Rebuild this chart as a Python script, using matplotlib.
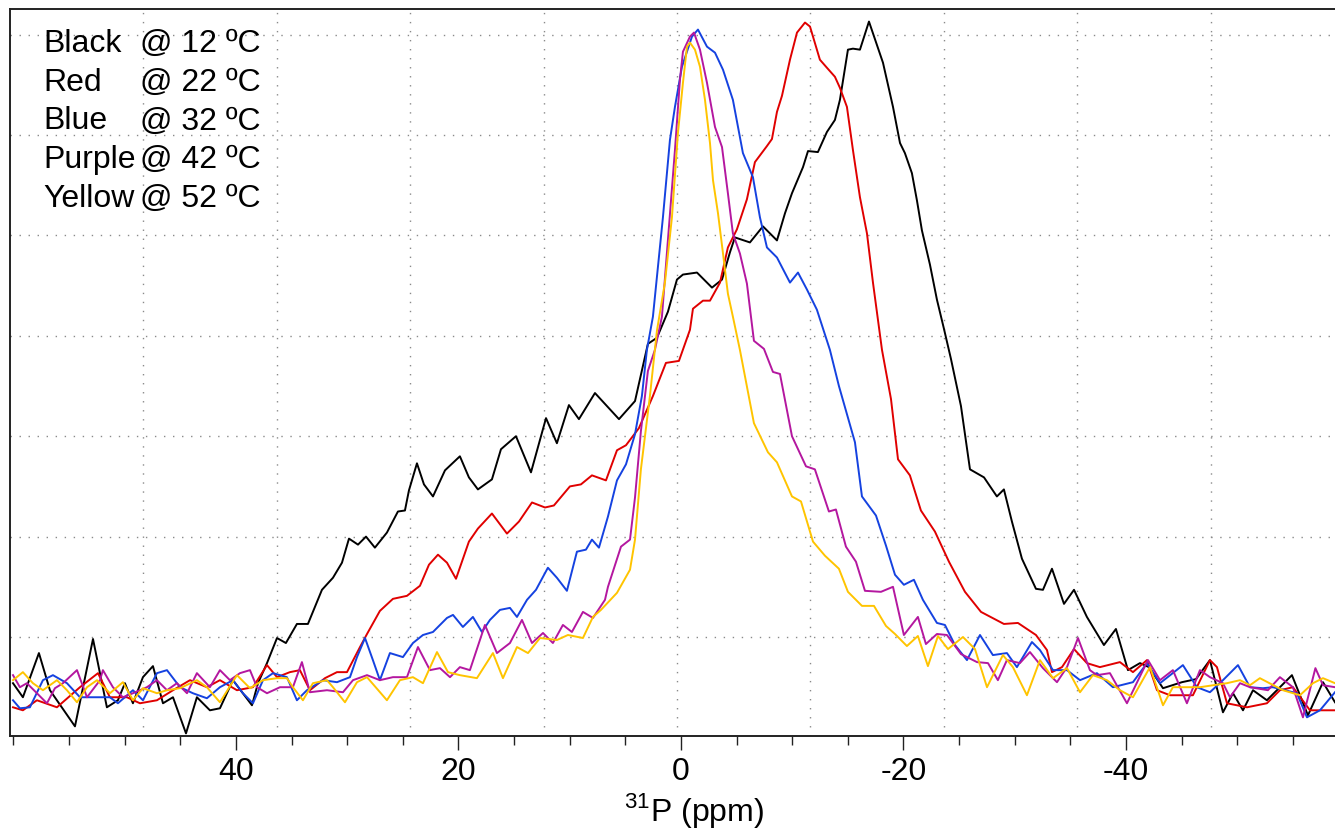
import numpy as np
import matplotlib
matplotlib.use("Agg")
import matplotlib.pyplot as plt

plt.rcParams['font.family'] = ['Liberation Sans', 'DejaVu Sans']
plt.rcParams['mathtext.fontset'] = 'custom'
plt.rcParams['mathtext.rm'] = 'Liberation Sans'
plt.rcParams['axes.unicode_minus'] = False

# 31P spectra: chemical shift (ppm) and intensity (a.u.)
black_ppm = [60.04, 59.15, 57.71, 56.72, 54.47, 52.85, 51.60, 50.61, 49.98, 49.26, 48.36, 47.46,
             46.56, 45.66, 44.49, 43.51, 42.34, 41.44, 40.27, 38.56, 38.02, 37.21, 36.31, 35.51,
             34.52, 33.53, 32.27, 31.28, 30.47, 29.84, 29.03, 28.31, 27.51, 26.43, 25.44, 24.81,
             24.45, 23.73, 23.10, 22.29, 21.21, 19.87, 19.06, 18.25, 16.99, 16.18, 14.83, 13.48,
             12.13, 11.15, 10.07, 9.17, 7.73, 5.57, 4.13, 2.97, 2.16, 1.17, 0.36, -0.18, -1.44,
             -2.79, -3.69, -4.40, -4.85, -6.20, -7.37, -8.63, -9.35, -9.98, -10.97, -11.42, -12.31,
             -13.12, -13.84, -14.29, -15.01, -15.46, -16.09, -16.90, -18.16, -19.06, -19.69, -20.13,
             -20.76, -21.21, -21.66, -22.38, -23.01, -23.64, -24.27, -25.17, -25.98, -27.24, -28.40,
             -29.03, -29.75, -30.65, -31.91, -32.54, -33.35, -34.43, -35.33, -36.49, -38.02, -39.10,
             -40.18, -41.26, -42.07, -43.33, -45.03, -46.29, -47.55, -48.72, -49.62, -50.52, -51.42,
             -52.67, -54.92, -56.36, -57.71, -58.79]
black_int = [0.54, 0.40, 0.84, 0.47, 0.11, 0.98, 0.30, 0.37, 0.54, 0.34, 0.60, 0.71,
             0.34, 0.40, 0.04, 0.40, 0.27, 0.29, 0.57, 0.32, 0.54, 0.74, 0.99, 0.94,
             1.13, 1.13, 1.47, 1.59, 1.74, 1.98, 1.92, 2.00, 1.89, 2.04, 2.25, 2.26,
             2.46, 2.73, 2.52, 2.40, 2.66, 2.80, 2.59, 2.47, 2.57, 2.87, 3.00, 2.64,
             3.18, 2.93, 3.31, 3.17, 3.43, 3.17, 3.35, 3.92, 3.98, 4.24, 4.56, 4.61, 4.63,
             4.48, 4.56, 4.83, 4.98, 4.93, 5.09, 4.95, 5.22, 5.42, 5.68, 5.84, 5.83,
             6.03, 6.15, 6.35, 6.85, 6.86, 6.85, 7.13, 6.72, 6.28, 5.92, 5.82,
             5.62, 5.35, 5.05, 4.71, 4.36, 4.07, 3.77, 3.30, 2.67, 2.59, 2.40,
             2.47, 2.15, 1.78, 1.48, 1.47, 1.68, 1.33, 1.47, 1.20, 0.92, 1.08,
             0.67, 0.74, 0.70, 0.49, 0.55, 0.58, 0.77, 0.25, 0.44, 0.27, 0.47,
             0.37, 0.62, 0.22, 0.55, 0.35]

red_ppm = [60.04, 59.15, 57.89, 56.09, 54.02, 52.40, 51.33, 49.80, 48.63, 47.10, 45.66, 44.13,
           42.61, 41.44, 39.91, 38.47, 37.21, 36.31, 35.15, 34.25, 33.35, 32.00, 30.92, 30.02,
           28.85, 28.22, 27.06, 25.89, 24.63, 23.46, 22.65, 21.84, 21.03, 20.22, 19.06, 18.25,
           16.99, 15.64, 14.56, 13.39, 12.22, 11.42, 9.98, 8.99, 8.00, 6.74, 5.75, 4.94, 3.78,
           2.52, 1.35, 0.18, -0.81, -1.08, -1.98, -2.61, -3.51, -4.22, -5.03, -5.93, -6.65,
           -7.73, -8.18, -8.63, -9.08, -9.80, -10.43, -11.15, -11.60, -12.49, -13.12, -13.84,
           -14.29, -14.92, -15.46, -16.09, -16.72, -17.26, -18.07, -18.88, -19.51, -20.58,
           -21.57, -22.83, -24.09, -25.53, -26.97, -29.03, -30.29, -31.91, -32.90, -33.35,
           -34.25, -35.33, -36.49, -37.66, -39.46, -40.63, -41.89, -42.79, -43.96, -46.02,
           -47.55, -48.18, -49.08, -50.88, -52.67, -53.84, -55.01, -56.54, -58.79]
red_int = [0.30, 0.27, 0.37, 0.30, 0.50, 0.64, 0.40, 0.40, 0.34, 0.37, 0.47, 0.57,
           0.50, 0.57, 0.47, 0.50, 0.72, 0.60, 0.65, 0.67, 0.47, 0.59, 0.65, 0.65,
           0.90, 1.03, 1.26, 1.38, 1.41, 1.51, 1.72, 1.82, 1.74, 1.58, 1.95, 2.08,
           2.23, 2.03, 2.15, 2.34, 2.29, 2.31, 2.50, 2.52, 2.61, 2.56, 2.86, 2.91, 3.08,
           3.40, 3.73, 3.75, 4.06, 4.27, 4.35, 4.35, 4.53, 4.88, 5.06, 5.36, 5.73,
           5.89, 5.96, 6.23, 6.39, 6.75, 7.02, 7.12, 7.08, 6.75, 6.67, 6.58,
           6.47, 6.28, 5.85, 5.38, 5.02, 4.53, 3.86, 3.37, 2.77, 2.61,
           2.26, 2.05, 1.75, 1.45, 1.25, 1.13, 1.14, 1.02, 0.87, 0.65,
           0.70, 0.88, 0.74, 0.70, 0.75, 0.65, 0.77, 0.47, 0.42, 0.42,
           0.77, 0.70, 0.34, 0.30, 0.34, 0.47, 0.50, 0.27, 0.27]

blue_ppm = [60.04, 59.42, 58.52, 57.35, 56.45, 55.19, 54.02, 52.85, 51.33, 50.61, 49.26, 48.36,
            47.10, 46.20, 45.03, 43.87, 42.61, 41.44, 40.27, 39.37, 38.47, 37.57, 36.67, 35.42,
            34.52, 33.62, 32.18, 30.92, 29.75, 29.12, 28.40, 27.69, 27.06, 26.16, 24.99, 24.09,
            23.19, 22.29, 21.03, 20.49, 19.60, 18.70, 17.89, 17.17, 16.27, 15.37, 14.74, 13.84,
            13.03, 11.96, 11.15, 10.25, 9.35, 8.54, 8.00, 7.37, 6.56, 5.75, 4.94, 4.13, 3.51,
            3.06, 2.52, 1.62, 0.99, 0.54, -0.09, -0.99, -1.53, -2.34, -3.06, -3.78, -4.67,
            -5.57, -6.47, -7.10, -7.73, -8.63, -9.80, -10.52, -11.33, -12.22, -13.39, -14.20,
            -15.64, -16.27, -17.53, -18.43, -19.24, -20.04, -20.94, -21.75, -23.01, -23.73,
            -24.63, -25.71, -26.88, -28.04, -29.30, -30.20, -31.55, -32.27, -33.44, -34.70,
            -35.87, -37.39, -38.83, -40.63, -41.89, -43.06, -45.12, -46.38, -47.55, -48.72,
            -50.07, -51.15, -52.31, -53.21, -55.37, -56.27, -57.44, -58.79]
blue_int = [0.37, 0.29, 0.30, 0.57, 0.62, 0.54, 0.40, 0.40, 0.40, 0.34, 0.47, 0.37,
            0.64, 0.67, 0.50, 0.44, 0.39, 0.50, 0.57, 0.44, 0.34, 0.57, 0.64, 0.60,
            0.37, 0.47, 0.57, 0.55, 0.60, 0.80, 0.99, 0.77, 0.57, 0.84, 0.80, 0.94,
            1.02, 1.05, 1.19, 1.22, 1.10, 1.20, 1.05, 1.17, 1.27, 1.29, 1.20, 1.37,
            1.47, 1.69, 1.59, 1.46, 1.85, 1.87, 1.97, 1.89, 2.20, 2.56, 2.72, 3.02, 3.40,
            3.86, 4.19, 5.18, 5.95, 6.28, 6.68, 6.98, 7.05, 6.88, 6.82, 6.65, 6.35,
            5.82, 5.58, 5.18, 4.88, 4.78, 4.53, 4.63, 4.46, 4.26, 3.86, 3.50,
            2.94, 2.40, 2.21, 1.91, 1.62, 1.52, 1.57, 1.37, 1.14, 1.12,
            0.92, 0.77, 1.02, 0.82, 0.84, 0.70, 0.95, 0.87, 0.67, 0.67,
            0.57, 0.64, 0.50, 0.55, 0.74, 0.54, 0.72, 0.50, 0.45, 0.57,
            0.72, 0.50, 0.49, 0.50, 0.44, 0.20, 0.27, 0.45]

purple_ppm = [60.04, 59.42, 58.79, 57.89, 56.99, 56.27, 55.55, 54.29, 53.39, 52.22, 51.96, 51.06,
              50.16, 49.26, 48.00, 47.10, 46.20, 45.30, 44.40, 43.51, 42.34, 41.44, 40.54, 39.64,
              38.74, 38.11, 37.21, 36.04, 34.88, 34.07, 33.35, 31.82, 30.38, 29.48, 28.22, 27.06,
              25.89, 24.63, 23.64, 22.56, 21.66, 20.76, 19.87, 18.97, 17.62, 16.54, 15.37, 14.29,
              13.39, 12.40, 11.51, 10.61, 9.80, 8.81, 7.91, 6.83, 6.56, 5.39, 4.58, 4.13, 3.60,
              2.97, 2.34, 1.71, 1.17, 0.54, 0.09, -0.18, -0.81, -1.17, -1.71, -2.34, -3.06,
              -3.69, -4.22, -4.67, -5.30, -5.93, -6.56, -7.46, -8.27, -8.90, -9.98, -11.24,
              -12.04, -13.30, -13.93, -14.83, -15.73, -16.54, -17.98, -19.06, -20.04, -21.30,
              -22.02, -23.01, -23.91, -25.17, -26.61, -27.60, -28.49, -29.30, -30.47, -31.37,
              -32.54, -33.80, -34.70, -35.69, -36.76, -37.39, -38.56, -40.09, -41.53, -41.98,
              -43.06, -44.22, -45.48, -46.65, -47.55, -48.72, -49.35, -50.25, -51.15, -52.76,
              -53.84, -55.01, -55.91, -57.03, -57.71, -58.79]
purple_int = [0.62, 0.50, 0.54, 0.44, 0.34, 0.49, 0.54, 0.67, 0.40, 0.57, 0.67, 0.50,
              0.40, 0.44, 0.50, 0.57, 0.47, 0.54, 0.44, 0.64, 0.50, 0.67, 0.57, 0.64,
              0.67, 0.50, 0.44, 0.50, 0.50, 0.75, 0.45, 0.47, 0.45, 0.57, 0.62, 0.57,
              0.60, 0.60, 0.90, 0.67, 0.69, 0.60, 0.70, 0.67, 1.12, 0.84, 0.94, 1.17,
              0.94, 1.04, 0.94, 1.12, 1.05, 1.25, 1.19, 1.37, 1.50, 1.90, 1.97, 2.39, 3.05,
              3.65, 3.86, 4.19, 4.96, 5.85, 6.55, 6.83, 6.98, 7.02, 6.85, 6.52, 6.08,
              5.88, 5.42, 5.02, 4.82, 4.52, 3.95, 3.87, 3.64, 3.62, 3.00, 2.70,
              2.67, 2.25, 2.27, 1.90, 1.75, 1.46, 1.45, 1.50, 1.02, 1.20,
              0.93, 1.03, 1.02, 0.83, 0.75, 0.74, 0.57, 0.77, 0.74, 0.85,
              0.69, 0.55, 0.70, 0.99, 0.67, 0.62, 0.64, 0.34, 0.67, 0.77,
              0.57, 0.67, 0.34, 0.67, 0.60, 0.54, 0.40, 0.54, 0.50, 0.47,
              0.60, 0.50, 0.20, 0.69, 0.52, 0.50]

yellow_ppm = [60.04, 59.15, 58.25, 57.35, 56.09, 55.19, 54.29, 53.39, 52.49, 51.33, 50.16, 49.26,
              48.36, 47.10, 46.20, 45.03, 43.51, 42.61, 41.44, 39.91, 38.74, 37.57, 36.31, 35.42,
              34.88, 33.98, 33.08, 31.82, 31.28, 30.20, 29.12, 28.22, 26.43, 25.26, 24.09, 23.19,
              21.93, 20.94, 19.87, 18.34, 16.90, 16.00, 14.74, 13.75, 12.67, 11.15, 10.16, 8.81,
              7.91, 7.19, 5.75, 4.58, 4.13, 3.60, 2.79, 2.16, 1.44, 0.81, 0.27, -0.18, -0.54,
              -0.81, -1.26, -1.71, -2.16, -2.61, -2.88, -3.33, -3.78, -4.22, -4.67, -5.30,
              -6.56, -7.82, -8.63, -9.98, -10.79, -11.87, -12.94, -14.20, -15.01, -16.27,
              -17.35, -18.43, -19.24, -20.31, -21.30, -22.20, -23.10, -24.00, -25.35, -26.43,
              -27.51, -28.94, -29.84, -31.10, -32.27, -33.44, -34.70, -35.87, -37.03, -38.29,
              -39.46, -40.63, -42.16, -43.33, -44.22, -46.65, -49.08, -50.25, -51.15, -52.04,
              -54.11, -55.64, -56.81, -57.71, -58.79]
yellow_int = [0.57, 0.65, 0.54, 0.47, 0.57, 0.47, 0.35, 0.50, 0.57, 0.44, 0.55, 0.37,
              0.49, 0.44, 0.47, 0.49, 0.57, 0.50, 0.35, 0.62, 0.49, 0.57, 0.59, 0.59,
              0.50, 0.37, 0.54, 0.57, 0.50, 0.35, 0.55, 0.60, 0.37, 0.57, 0.60, 0.54,
              0.85, 0.65, 0.62, 0.59, 0.84, 0.59, 0.90, 0.84, 0.99, 0.97, 1.02, 0.99,
              1.20, 1.27, 1.44, 1.67, 1.97, 2.67, 3.40, 4.05, 4.53, 5.18, 6.02, 6.52, 6.88,
              6.92, 6.85, 6.68, 6.35, 5.92, 5.55, 5.22, 4.82, 4.42, 4.19, 3.86,
              3.13, 2.84, 2.74, 2.40, 2.35, 1.95, 1.81, 1.68, 1.45, 1.31,
              1.31, 1.11, 1.03, 0.91, 1.01, 0.71, 1.01, 0.88, 1.00, 0.88,
              0.50, 0.82, 0.70, 0.42, 0.77, 0.59, 0.69, 0.45, 0.62, 0.57,
              0.47, 0.40, 0.70, 0.32, 0.50, 0.50, 0.54, 0.57, 0.52, 0.59,
              0.47, 0.42, 0.54, 0.59, 0.54]

names = ['Black', 'Red', 'Blue', 'Purple', 'Yellow']
temps = ['@ 12 ºC', '@ 22 ºC', '@ 32 ºC', '@ 42 ºC', '@ 52 ºC']
colors = ['#000000', '#e00000', '#1542e0', '#b4179f', '#ffc400']
series = [(black_ppm, black_int), (red_ppm, red_int), (blue_ppm, blue_int),
          (purple_ppm, purple_int), (yellow_ppm, yellow_int)]

xlim = (60.31, -59.60)
ylim = (0.014, 7.255)

fig = plt.figure(figsize=(13.35, 8.3), dpi=100)
ax = fig.add_axes([10 / 1335, 1 - 736 / 830, 1334 / 1335, 727 / 830])

# dotted grid: vertical lines split the frame in 10, horizontal every 1 a.u.
for gx in np.linspace(xlim[0], xlim[1], 11)[1:-1]:
    ax.axvline(gx, color='#8a8a8a', lw=1.0, ls=(0, (1, 5.5)), zorder=0)
for gy in range(1, 8):
    ax.axhline(gy, color='#8a8a8a', lw=1.0, ls=(0, (1, 5.5)), zorder=0)

for (xs, ys), c in zip(series, colors):
    ax.plot(xs, ys, color=c, lw=1.4)

ax.set_xlim(*xlim)
ax.set_ylim(*ylim)

ax.set_xticks([40, 20, 0, -20, -40])
ax.set_xticks(np.arange(60, -60, -5), minor=True)
ax.tick_params(axis='x', which='major', direction='out', length=9.8, width=1.0,
               labelsize=23, pad=5, color='#222222')
ax.tick_params(axis='x', which='minor', direction='out', length=6.5, width=1.0,
               color='#222222')
ax.set_yticks([])
for side in ['left', 'top', 'bottom']:
    ax.spines[side].set_linewidth(1.4)
    ax.spines[side].set_color('#222222')
ax.spines['right'].set_visible(False)

ax.set_xlabel('$^{31}$P (ppm)', fontsize=23)
ax.xaxis.set_label_coords(0.5127, -0.075)

for i, (n, t) in enumerate(zip(names, temps)):
    y = 0.9409 - i * 0.0533
    ax.text(0.0247, y, n, transform=ax.transAxes, fontsize=23, va='baseline')
    ax.text(0.0975, y, t, transform=ax.transAxes, fontsize=23, va='baseline')

fig.savefig('out.png', dpi=100)
